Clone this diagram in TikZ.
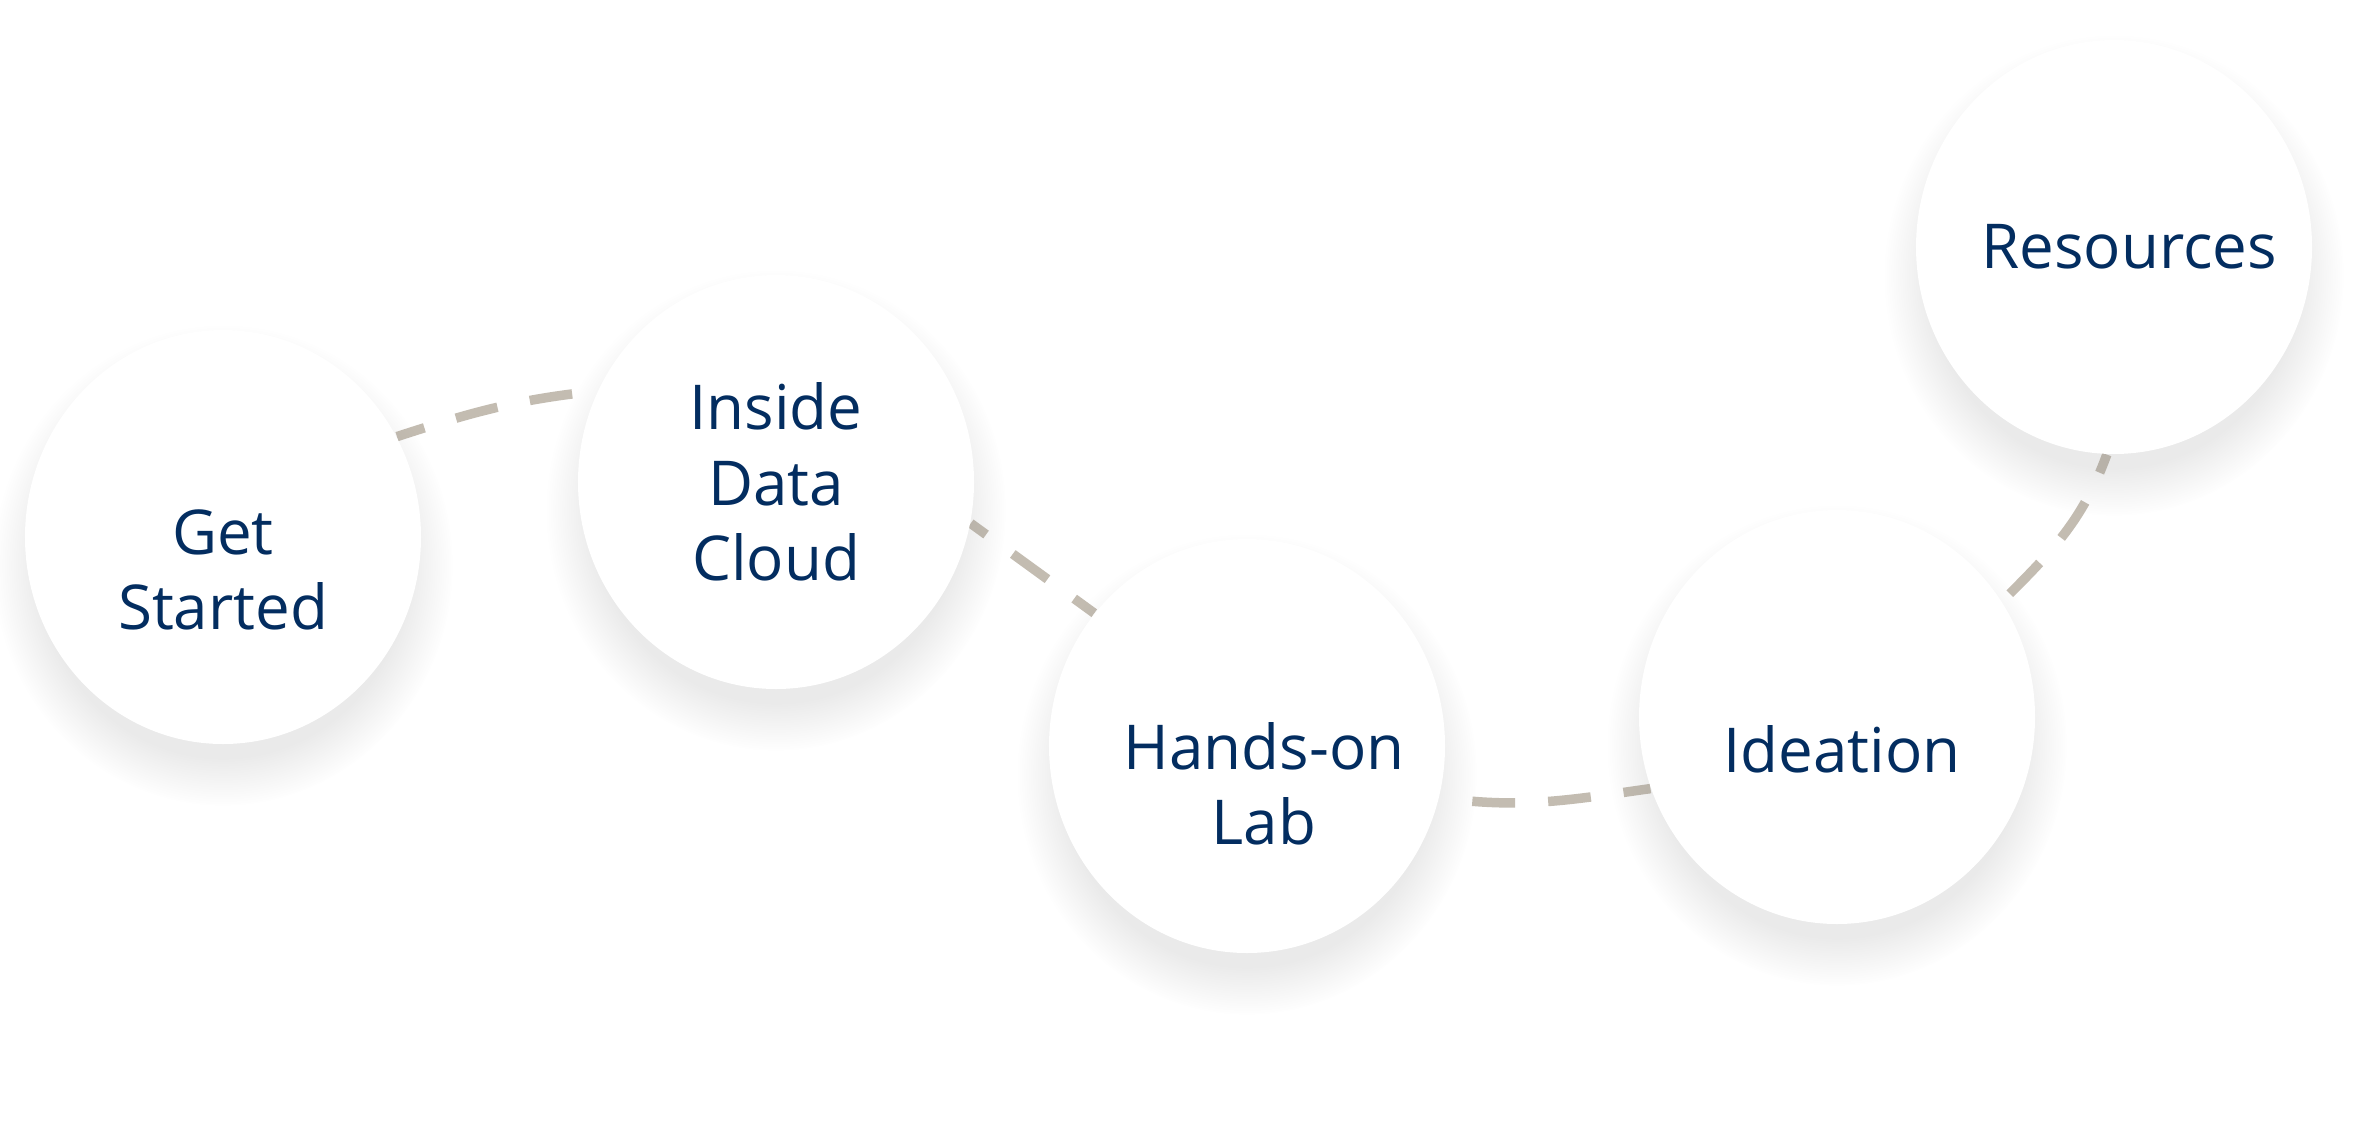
\documentclass[tikz,border=0pt]{standalone}
\usepackage{fontspec}
\setmainfont{Open Sans}
\usetikzlibrary{shapes.geometric,shadows,fadings,backgrounds}
\definecolor{navy}{HTML}{032D60}
\definecolor{trailgray}{RGB}{195,188,177}
\tikzset{stop/.style={ellipse,minimum width=3.96cm,minimum height=4.14cm,inner sep=0pt,fill=white,
  circular drop shadow={shadow scale=1.16,shadow xshift=0pt,shadow yshift=-7pt,opacity=0.16,fill=black!50,
    path fading={circle with fuzzy edge 20 percent}}}}
\tikzset{stoptext/.style={text=navy,align=center,font=\fontsize{17.6}{21.5}\selectfont}}
\tikzset{trail/.style={draw=trailgray,line width=2.7pt,dash pattern=on 12.2pt off 9.4pt}}

\begin{document}
\begin{tikzpicture}
\useasboundingbox (0,0) rectangle (23.74,11.42);
% stops
\node (gs) [stop] at (2.23,6.05) {};
\node (idc) [stop] at (7.76,6.60) {};
\node (hol) [stop] at (12.47,3.96) {};
\node (ide) [stop] at (18.37,4.25) {};
\node (res) [stop] at (21.14,8.95) {};
%
\node (gsT) [stoptext] at ([yshift=-3.3mm]gs) {Get\\Started};
\node (idcT) [stoptext] at (idc) {Inside\\Data\\Cloud};
\node (holT) [stoptext] at ([xshift=1.7mm,yshift=-3.8mm]hol) {Hands-on\\Lab};
\node (ideT) [stoptext] at ([xshift=0.5mm,yshift=-3.2mm]ide) {Ideation};
\node (resT) [stoptext] at ([xshift=1.5mm]res) {Resources};
%
% dashed trail behind the stops
\begin{pgfonlayer}{background}
\fill[white] (0,0) rectangle (23.74,11.42);
\path[trail,dash phase=4pt] (gs.30) edge[out=18,in=186] (idc.153);
\path[trail,dash phase=6.8pt] (idc.-12) edge (hol.139);
\path[trail,dash phase=12.2pt] (hol.-15) edge[out=-8,in=188] (ide.201);
\path[trail,dash phase=18.5pt] (ide.35) edge[out=45,in=-110] (res.268);
\end{pgfonlayer}
\end{tikzpicture}
\end{document}
